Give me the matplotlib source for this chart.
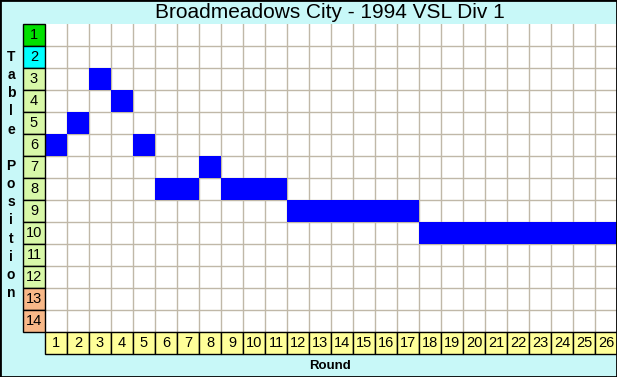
import matplotlib.pyplot as plt
from matplotlib.patches import Rectangle

plt.rcParams['font.family'] = ['Liberation Sans', 'DejaVu Sans']

# Data
rounds = list(range(1, 27))
positions = [6, 5, 3, 4, 6, 8, 8, 7, 8, 8, 8, 9, 9, 9, 9, 9, 9,
             10, 10, 10, 10, 10, 10, 10, 10, 10]
table_rows = list(range(1, 15))
row_colors = ['#00e000', '#00ffff'] + ['#d8f8a8'] * 10 + ['#f8b888'] * 2
title = 'Broadmeadows City - 1994 VSL Div 1'

W, H = 617, 377
fig = plt.figure(figsize=(W / 100, H / 100), dpi=100, facecolor='#c8f8f8')

# grid area in pixels: x 45..617, y 24..332
ax = fig.add_axes([45 / W, 1 - 332 / H, 572 / W, 308 / H])
ax.set_xlim(0.5, 26.5)
ax.set_ylim(14.5, 0.5)
ax.set_facecolor('white')
for s in ax.spines.values():
    s.set_visible(False)
ax.set_xticks([])
ax.set_yticks([])

# grid lines
for x in range(1, 27):
    ax.axvline(x + 0.5, color='#c0b8a8', lw=1, zorder=1)
for y in range(1, 15):
    ax.axhline(y + 0.5, color='#c0b8a8', lw=1, zorder=1)

# position cells
for r, p in zip(rounds, positions):
    ax.add_patch(Rectangle((r - 0.5, p - 0.5), 1, 1, facecolor='#0000ff',
                           edgecolor='none', zorder=2))

# row label column
for p, c in zip(table_rows, row_colors):
    ax.add_patch(Rectangle((-0.5, p - 0.5), 1, 1, facecolor=c, edgecolor='black',
                           lw=1, clip_on=False, zorder=3))
    ax.text(0, p, str(p), ha='center', va='center', fontsize=10.5, clip_on=False, zorder=4)

# round label row
for r in rounds:
    ax.add_patch(Rectangle((r - 0.5, 14.5), 1, 1, facecolor='#ffff99', edgecolor='black',
                           lw=1, clip_on=False, zorder=3))
    ax.text(r, 15, str(r), ha='center', va='center', fontsize=10.5, clip_on=False, zorder=4)

fig.text(330 / W, 1 - 12 / H, title, ha='center', va='center', fontsize=15)
fig.text(330 / W, 1 - 366 / H, 'Round', ha='center', va='center', fontsize=9.5, fontweight='bold')
fig.text(11 / W, 1 - 175 / H, '\n'.join('Table Position'), ha='center', va='center',
         fontsize=10, fontweight='bold', linespacing=1.38)

# outer border
fig.add_artist(Rectangle((0, 0), 1, 1, transform=fig.transFigure, fill=False,
                         edgecolor='black', lw=2))

fig.savefig('out.png', dpi=100, facecolor=fig.get_facecolor())
